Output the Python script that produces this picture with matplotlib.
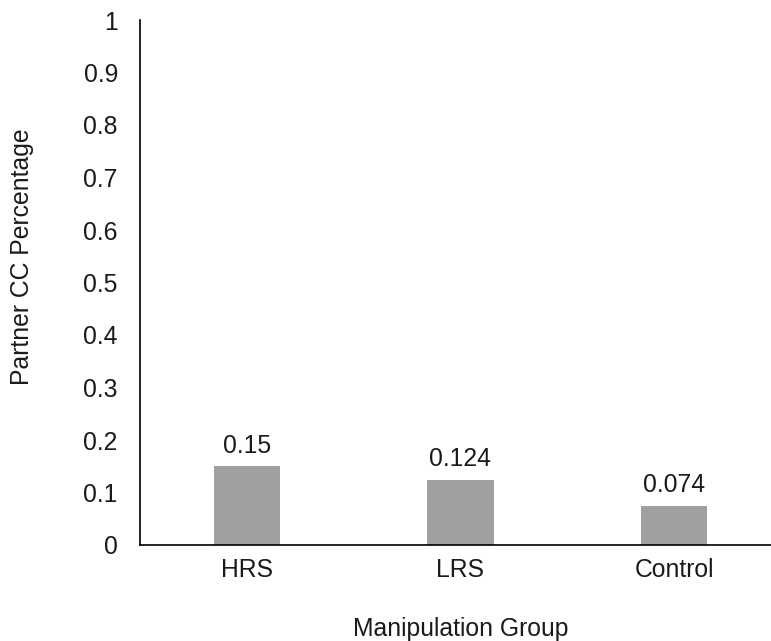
import matplotlib.pyplot as plt

# Partner CC percentage by manipulation group
groups = ['HRS', 'LRS', 'Control']
values = [0.15, 0.124, 0.074]
value_labels = ['0.15', '0.124', '0.074']
y_ticks = [0, 0.1, 0.2, 0.3, 0.4, 0.5, 0.6, 0.7, 0.8, 0.9, 1]
y_tick_labels = ['0', '0.1', '0.2', '0.3', '0.4', '0.5', '0.6', '0.7', '0.8', '0.9', '1']

plt.rcParams['font.family'] = ['Liberation Sans', 'DejaVu Sans']
fs = 17.8

fig = plt.figure(figsize=(7.71, 6.41), dpi=100)
ax = fig.add_axes([140 / 771, 96 / 641, 641 / 771, 525 / 641])

x = range(len(groups))
bars = ax.bar(x, values, width=0.31, color='#a0a0a0')
for b, lab in zip(bars, value_labels):
    ax.text(b.get_x() + b.get_width() / 2, b.get_height() + 0.026, lab,
            ha='center', va='baseline', fontsize=fs, color='#1a1a1a')

ax.set_xlim(-0.5, 2.5)
ax.set_ylim(0, 1)
ax.set_xticks(list(x))
ax.set_xticklabels(groups)
ax.set_yticks(y_ticks)
ax.set_yticklabels(y_tick_labels)
ax.tick_params(axis='both', length=0, labelsize=fs, colors='#1a1a1a')
ax.tick_params(axis='x', pad=9.5)
ax.tick_params(axis='y', pad=16)

for side in ['top', 'right']:
    ax.spines[side].set_visible(False)
ax.spines['left'].set_linewidth(1.2)
ax.spines['bottom'].set_linewidth(1.2)

ax.set_xlabel('Manipulation Group', fontsize=fs, color='#1a1a1a')
ax.set_ylabel('Partner CC Percentage', fontsize=fs, color='#1a1a1a')
ax.xaxis.set_label_coords(0.5, -0.138)
ax.yaxis.set_label_coords(-0.165, 0.55)

fig.savefig('out.png', dpi=100)
